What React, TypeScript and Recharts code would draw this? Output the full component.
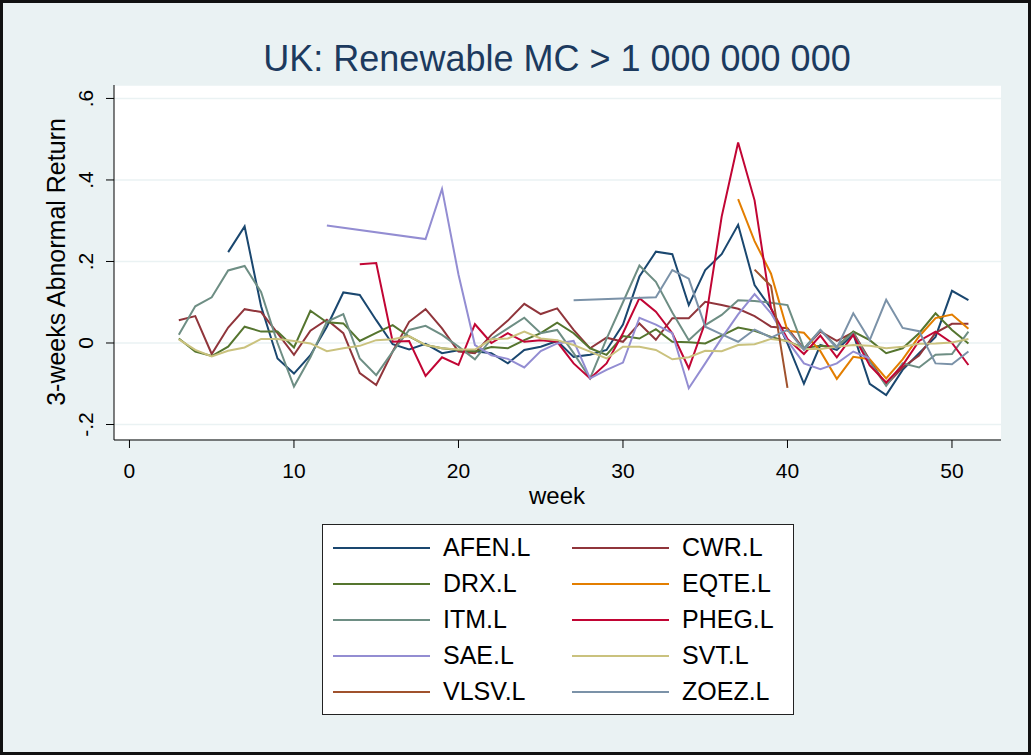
import React from "react";
import { LineChart, Line, XAxis, YAxis, CartesianGrid } from "recharts";

const FONT = "'Liberation Sans', Arial, Helvetica, sans-serif";

const weeks = [
  3, 4, 5, 6, 7, 8, 9,
  10, 11, 12, 13, 14, 15, 16, 17, 18, 19,
  20, 21, 22, 23, 24, 25, 26, 27, 28, 29,
  30, 31, 32, 33, 34, 35, 36, 37, 38, 39,
  40, 41, 42, 43, 44, 45, 46, 47, 48, 49,
  50, 51,
];

// one value per week, weeks 3..51 (null = no observation)
const afen = [
  null, null, null, 0.223, 0.286, 0.09, -0.038,
  -0.075, -0.03, 0.04, 0.124, 0.118, 0.056, -0.003, -0.016, -0.002, -0.025,
  -0.018, -0.02, -0.025, -0.05, -0.017, -0.009, 0.005, -0.034, -0.029, -0.017,
  0.045, 0.163, 0.224, 0.218, 0.093, 0.179, 0.218, 0.29, 0.142, 0.085,
  -0.001, -0.1, -0.005, -0.017, 0.022, -0.1, -0.128, -0.066, -0.025, 0.015,
  0.128, 0.105,
];
const cwr = [
  0.056, 0.066, -0.027, 0.038, 0.083, 0.076, 0.024,
  -0.029, 0.03, 0.057, 0.024, -0.074, -0.103, -0.021, 0.052, 0.083, 0.036,
  -0.021, -0.025, 0.02, 0.055, 0.096, 0.071, 0.085, 0.032, -0.013, 0.013,
  0.003, 0.048, 0.008, 0.061, 0.061, 0.101, 0.093, 0.084, 0.066, 0.04,
  0.036, -0.015, 0.028, 0.005, 0.026, -0.042, -0.103, -0.06, -0.031, 0.025,
  0.047, 0.047,
];
const drx = [
  0.011, -0.021, -0.032, -0.009, 0.04, 0.028, 0.028,
  -0.011, 0.079, 0.051, 0.048, 0.005, 0.025, 0.044, 0.016, -0.005, -0.013,
  -0.017, -0.021, -0.01, -0.013, 0.007, 0.024, 0.05, 0.024, -0.013, -0.029,
  0.017, 0.011, 0.034, 0.003, 0.002, -0.001, 0.018, 0.038, 0.03, 0.015,
  0.004, -0.012, -0.007, -0.009, 0.028, 0.007, -0.025, -0.013, 0.024, 0.073,
  0.032, -0.001,
];
const eqte = [
  null, null, null, null, null, null, null,
  null, null, null, null, null, null, null, null, null, null,
  null, null, null, null, null, null, null, null, null, null,
  null, null, null, null, null, null, null, 0.353, 0.25, 0.17,
  0.03, 0.025, -0.02, -0.088, -0.034, -0.04, -0.087, -0.04, 0.016, 0.061,
  0.07, 0.035,
];
const itm = [
  0.02, 0.09, 0.112, 0.178, 0.189, 0.125, 0.0,
  -0.107, -0.035, 0.052, 0.071, -0.038, -0.079, -0.021, 0.032, 0.042, 0.02,
  -0.009, -0.04, 0.01, 0.036, 0.062, 0.024, 0.032, -0.025, -0.087, 0.01,
  0.1, 0.19, 0.15, 0.075, 0.007, 0.044, 0.069, 0.105, 0.103, 0.099,
  0.093, -0.013, 0.032, -0.009, 0.025, -0.046, -0.105, -0.05, -0.06, -0.029,
  -0.027, 0.028,
];
const pheg = [
  null, null, null, null, null, null, null,
  null, null, null, null, 0.193, 0.196, 0.003, 0.005, -0.081, -0.035,
  -0.054, 0.046, 0.0, 0.024, 0.003, 0.007, 0.003, -0.05, -0.087, -0.05,
  0.024, 0.11, 0.077, 0.024, -0.062, 0.05, 0.31, 0.492, 0.35, 0.085,
  0.01, -0.027, 0.018, -0.035, 0.02, -0.055, -0.097, -0.055, 0.005, 0.028,
  0.0, -0.054,
];
const sae = [
  null, null, null, null, null, null, null,
  null, null, 0.288, null, null, null, null, null, 0.255, 0.378,
  0.168, -0.005, -0.03, -0.039, -0.06, -0.02, -0.001, 0.005, -0.087, -0.066,
  -0.048, 0.062, 0.045, 0.024, -0.111, -0.05, 0.012, 0.07, 0.12, 0.073,
  0.005, -0.05, -0.064, -0.05, -0.021, -0.038, null, null, null, null,
  null, null,
];
const svt = [
  0.009, -0.017, -0.033, -0.019, -0.011, 0.01, 0.01,
  0.005, -0.001, -0.02, -0.013, -0.007, 0.007, 0.009, 0.017, -0.005, -0.013,
  -0.016, -0.016, 0.009, 0.011, 0.028, 0.011, 0.007, -0.005, -0.021, -0.038,
  -0.009, -0.009, -0.017, -0.04, -0.035, -0.019, -0.02, -0.005, -0.003, 0.01,
  0.005, -0.015, -0.015, -0.009, -0.005, -0.007, -0.013, -0.009, -0.002, -0.001,
  0.001, 0.01,
];
const vlsv = [
  null, null, null, null, null, null, null,
  null, null, null, null, null, null, null, null, null, null,
  null, null, null, null, null, null, null, null, null, null,
  null, null, null, null, null, null, null, null, 0.18, 0.14,
  -0.11, null, null, null, null, null, null, null, null, null,
  null, null,
];
const zoez = [
  null, null, null, null, null, null, null,
  null, null, null, null, null, null, null, null, null, null,
  null, null, null, null, null, null, null, 0.105, null, null,
  null, null, 0.112, 0.179, 0.158, 0.04, 0.021, 0.003, 0.033, 0.013,
  0.032, -0.017, 0.032, -0.012, 0.073, 0.007, 0.106, 0.037, 0.029, -0.05,
  -0.052, -0.021,
];

const xTicks = [0, 10, 20, 30, 40, 50];
const yTicks = [-0.2, 0, 0.2, 0.4, 0.6];

const series = [
  { name: "AFEN.L", values: afen, color: "#1a476f" },
  { name: "CWR.L", values: cwr, color: "#90353b" },
  { name: "DRX.L", values: drx, color: "#55752f" },
  { name: "EQTE.L", values: eqte, color: "#e37e00" },
  { name: "ITM.L", values: itm, color: "#6e8e84" },
  { name: "PHEG.L", values: pheg, color: "#c10534" },
  { name: "SAE.L", values: sae, color: "#938dd2" },
  { name: "SVT.L", values: svt, color: "#cac27e" },
  { name: "VLSV.L", values: vlsv, color: "#a0522d" },
  { name: "ZOEZ.L", values: zoez, color: "#7b92a8" },
];

const rows = weeks.map((w, i) => {
  const r: Record<string, number | null> = { week: w };
  series.forEach((s) => (r[s.name] = s.values[i]));
  return r;
});

const fmtY = (v: number) => {
  if (v === 0) return "0";
  const s = String(Math.abs(v)).replace(/^0/, "");
  return (v < 0 ? "-" : "") + s;
};

const YTick = (props: any) => {
  const { y, payload } = props;
  return (
    <text x={93} y={y} transform={`rotate(-90 93 ${y})`} textAnchor="middle" fontSize={21} fontFamily={FONT} fill="#000">
      {fmtY(payload.value)}
    </text>
  );
};

const XTick = (props: any) => {
  const { x, payload } = props;
  return (
    <text x={x} y={478} textAnchor="middle" fontSize={21} fontFamily={FONT} fill="#000">
      {payload.value}
    </text>
  );
};

export default function App() {
  return (
    <div style={{ position: "relative", width: 1031, height: 755, background: "#eaf2f3", boxSizing: "border-box", border: "3px solid #111", overflow: "hidden" }}>
      <style>{"body{margin:0}"}</style>
      <div style={{ position: "absolute", left: -3, top: -3 }}>
        <LineChart width={1031} height={755} data={rows} margin={{ top: 85, right: 30, bottom: 255, left: 54 }}>
          <CartesianGrid horizontal vertical={false} stroke="#eaf2f3" strokeWidth={1.5} fill="#ffffff" />
          <XAxis
            type="number"
            dataKey="week"
            domain={[-0.94, 52.98]}
            allowDataOverflow
            ticks={xTicks}
            tick={<XTick />}
            tickSize={8}
            height={60}
            axisLine={{ stroke: "#000" }}
            tickLine={{ stroke: "#000" }}
          />
          <YAxis
            type="number"
            domain={[-0.238, 0.633]}
            allowDataOverflow
            ticks={yTicks}
            tick={<YTick />}
            tickSize={8}
            width={60}
            axisLine={{ stroke: "#000" }}
            tickLine={{ stroke: "#000" }}
          />
          {series.map((s) => (
            <Line
              key={s.name}
              type="linear"
              dataKey={s.name}
              stroke={s.color}
              strokeWidth={2}
              dot={false}
              connectNulls
              isAnimationActive={false}
            />
          ))}
        </LineChart>
        <svg width={1031} height={755} style={{ position: "absolute", left: 0, top: 0, pointerEvents: "none" }}>
          <text x={557} y={71} textAnchor="middle" fontSize={36} fontFamily={FONT} fill="#1c3a5e">
            UK: Renewable MC &gt; 1 000 000 000
          </text>
          <text x={65} y={262} transform="rotate(-90 65 262)" textAnchor="middle" fontSize={25} fontFamily={FONT} fill="#000">
            3-weeks Abnormal Return
          </text>
          <text x={557} y={504} textAnchor="middle" fontSize={24} fontFamily={FONT} fill="#000">
            week
          </text>
          <rect x={322.5} y={524.5} width={471} height={190} fill="#fff" stroke="#222" strokeWidth={1} />
          {series.map((s, i) => {
            const row = Math.floor(i / 2);
            const col = i % 2;
            const cy = 548 + row * 36;
            const lx = col === 0 ? 333 : 572;
            return (
              <g key={s.name}>
                <line x1={lx} x2={lx + 97} y1={cy} y2={cy} stroke={s.color} strokeWidth={2} />
                <text x={lx + 110} y={cy + 8} fontSize={25} fontFamily={FONT} fill="#000">
                  {s.name}
                </text>
              </g>
            );
          })}
        </svg>
      </div>
    </div>
  );
}
